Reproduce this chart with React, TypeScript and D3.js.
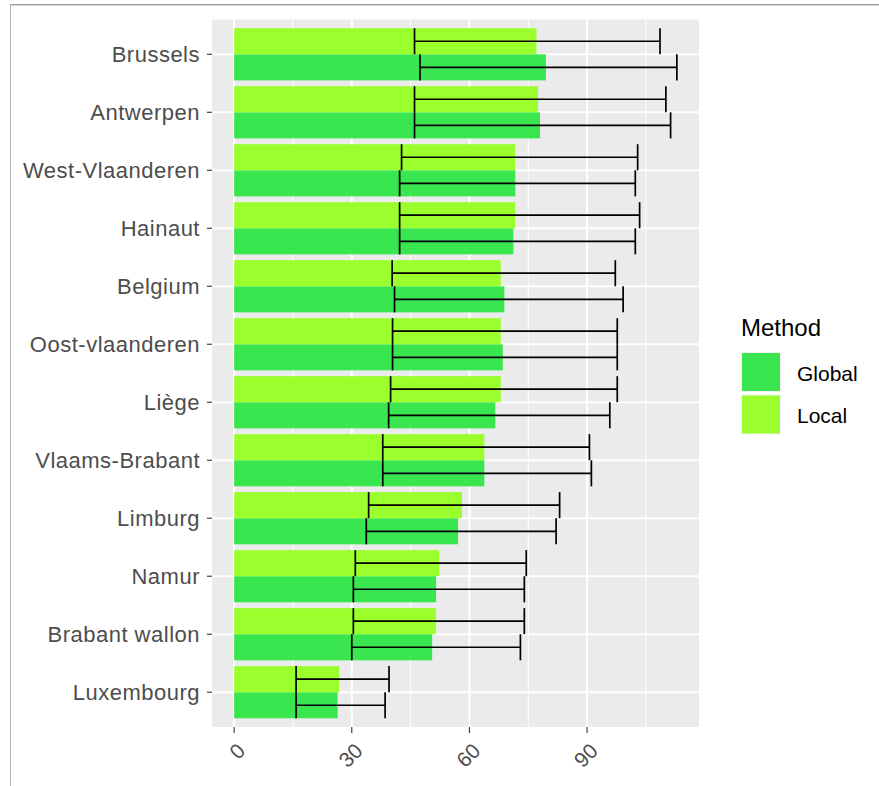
import React from "react";
import * as d3 from "d3";

const regions = [
  "Brussels",
  "Antwerpen",
  "West-Vlaanderen",
  "Hainaut",
  "Belgium",
  "Oost-vlaanderen",
  "Liège",
  "Vlaams-Brabant",
  "Limburg",
  "Namur",
  "Brabant wallon",
  "Luxembourg",
];

const methods = ["Local", "Global"];

const globalMean = [79.5, 78.0, 71.7, 71.2, 68.9, 68.5, 66.6, 63.8, 57.1, 51.5, 50.5, 26.4];
const globalLow = [47.4, 46.0, 42.2, 42.2, 40.9, 40.4, 39.4, 37.9, 33.7, 30.4, 30.0, 15.8];
const globalHigh = [112.9, 111.3, 102.3, 102.3, 99.2, 97.7, 95.8, 91.1, 82.1, 74.0, 73.0, 38.5];

const localMean = [77.1, 77.5, 71.7, 71.7, 68.0, 68.0, 68.0, 63.8, 58.1, 52.3, 51.5, 26.8];
const localLow = [46.0, 46.0, 42.7, 42.2, 40.3, 40.4, 39.9, 37.9, 34.3, 30.9, 30.4, 15.8];
const localHigh = [108.6, 110.1, 102.9, 103.4, 97.2, 97.7, 97.7, 90.6, 83.0, 74.5, 74.0, 39.5];

const xTicks = [0, 30, 60, 90];
const xMinor = [15, 45, 75, 105];

const colors: Record<string, string> = { Global: "#39E650", Local: "#9BFF2E" };

const W = 879;
const H = 786;
const panel = { left: 212, right: 699, top: 19.5, bottom: 727 };
const font = "'Liberation Sans', Arial, sans-serif";

export default function App() {
  const rows = regions.flatMap((r, i) => [
    { region: r, method: "Global", mean: globalMean[i], low: globalLow[i], high: globalHigh[i] },
    { region: r, method: "Local", mean: localMean[i], low: localLow[i], high: localHigh[i] },
  ]);

  const maxV = d3.max(rows, (d) => d.high) as number;
  const pad = maxV * 0.05;
  const x = d3.scaleLinear().domain([-pad, maxV + pad]).range([panel.left, panel.right]);

  // discrete expansion of 0.6 units on both sides
  const step = (panel.bottom - panel.top) / (regions.length - 1 + 1.2);
  const yc = (r: string) => panel.top + step * (0.6 + regions.indexOf(r));
  const barH = step * 0.9;
  const sub = d3.scaleBand<string>().domain(methods).range([-barH / 2, barH / 2]);

  const axisColor = "#4D4D4D";
  const tickColor = "#333333";

  return (
    <svg
      width={W}
      height={H}
      style={{ position: "absolute", left: 0, top: 0, background: "#fff" }}
      fontFamily={font}
    >
      {/* viewer frame */}
      <line x1={10} x2={W} y1={4.5} y2={4.5} stroke="#a0a0a0" strokeWidth={1} />
      <line x1={10} x2={W} y1={5.5} y2={5.5} stroke="#d6d6d6" strokeWidth={1} />
      <line x1={10.5} x2={10.5} y1={4} y2={H} stroke="#b4b4b4" strokeWidth={1} />

      {/* panel */}
      <rect
        x={panel.left}
        y={panel.top}
        width={panel.right - panel.left}
        height={panel.bottom - panel.top}
        fill="#EBEBEB"
      />
      {xMinor.map((v) => (
        <line key={"mn" + v} x1={x(v)} x2={x(v)} y1={panel.top} y2={panel.bottom} stroke="#fff" strokeWidth={1} />
      ))}
      {xTicks.map((v) => (
        <line key={"mj" + v} x1={x(v)} x2={x(v)} y1={panel.top} y2={panel.bottom} stroke="#fff" strokeWidth={2} />
      ))}
      {regions.map((r) => (
        <line key={"hg" + r} x1={panel.left} x2={panel.right} y1={yc(r)} y2={yc(r)} stroke="#fff" strokeWidth={2} />
      ))}

      {/* bars */}
      {rows.map((d) => {
        const top = yc(d.region) + (sub(d.method) as number);
        return (
          <rect
            key={"b" + d.region + d.method}
            x={x(0)}
            y={top}
            width={x(d.mean) - x(0)}
            height={sub.bandwidth()}
            fill={colors[d.method]}
          />
        );
      })}

      {/* error bars */}
      {rows.map((d) => {
        const top = yc(d.region) + (sub(d.method) as number);
        const bot = top + sub.bandwidth();
        const mid = (top + bot) / 2;
        return (
          <g key={"e" + d.region + d.method} stroke="#000" strokeWidth={1.7} fill="none">
            <line x1={x(d.low)} x2={x(d.high)} y1={mid} y2={mid} />
            <line x1={x(d.low)} x2={x(d.low)} y1={top} y2={bot} />
            <line x1={x(d.high)} x2={x(d.high)} y1={top} y2={bot} />
          </g>
        );
      })}

      {/* y axis */}
      {regions.map((r) => (
        <g key={"yl" + r}>
          <line x1={panel.left - 5} x2={panel.left} y1={yc(r)} y2={yc(r)} stroke={tickColor} strokeWidth={1.1} />
          <text
            x={panel.left - 12}
            y={yc(r)}
            textAnchor="end"
            dominantBaseline="central"
            fontSize={22}
            letterSpacing={0.5}
            fill={axisColor}
          >
            {r}
          </text>
        </g>
      ))}

      {/* x axis */}
      {xTicks.map((v) => (
        <g key={"xl" + v}>
          <line x1={x(v)} x2={x(v)} y1={panel.bottom} y2={panel.bottom + 6} stroke={tickColor} strokeWidth={1.1} />
          <text
            transform={`translate(${x(v) + 7},${747}) rotate(-45)`}
            textAnchor="end"
            dominantBaseline="central"
            fontSize={21}
            fill={axisColor}
          >
            {v}
          </text>
        </g>
      ))}

      {/* legend */}
      <text x={741} y={336} fontSize={24} fill="#000">
        Method
      </text>
      {["Global", "Local"].map((m, i) => {
        const ky = 352 + i * 42.5;
        return (
          <g key={"lg" + m}>
            <rect x={741} y={ky} width={40} height={40} fill="#F2F2F2" />
            <rect x={742} y={ky + 1} width={38} height={38} fill={colors[m]} />
            <text x={797} y={ky + 21} dominantBaseline="central" fontSize={21} fill="#000">
              {m}
            </text>
          </g>
        );
      })}
    </svg>
  );
}
